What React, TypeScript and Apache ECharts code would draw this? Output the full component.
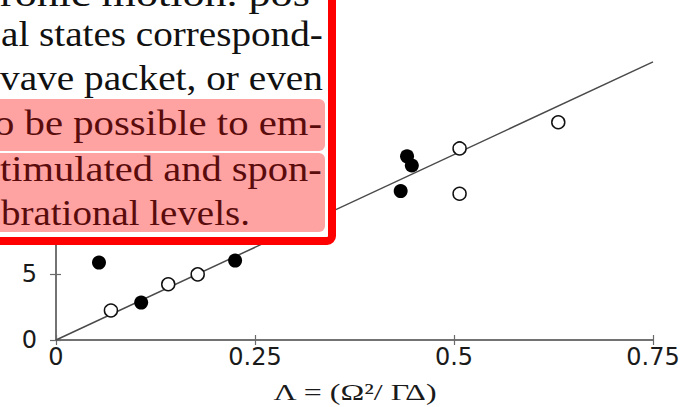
import React, { useEffect, useRef } from "react";
import * as echarts from "echarts";

// ---- data ----
const filledX = [0.054, 0.107, 0.225, 0.433, 0.441, 0.447];
const filledY = [5.9, 2.85, 6.05, 11.35, 14.0, 13.3];
const openX = [0.069, 0.141, 0.178, 0.507, 0.507, 0.631];
const openY = [2.25, 4.25, 5.0, 14.6, 11.15, 16.6];
const fitX = [0, 0.75];
const fitY = [0, 21.2];
const xTickLabels = ["0", "0.25", "0.5", "0.75"];
const yTickLabels = ["0", "5", "10", "15", "20", "25"];
const axisTitle = "Λ = (Ω²/ ΓΔ)";
const paragraphLines = [
  "ronic motion. pos",
  "al states correspond-",
  "vave packet, or even",
  "o be possible to em-",
  "timulated and spon-",
  "brational levels.",
];
const highlighted = [false, false, false, true, true, true];

// ---- layout (not data) ----
const lineLayout = [
  { left: 0, right: 310, baseline: 6 },
  { left: 1, right: 323, baseline: 46 },
  { left: 0, right: 323, baseline: 90 },
  { left: -6, right: 322, baseline: 135 },
  { left: 0, right: 322, baseline: 181 },
  { left: 1, right: 250, baseline: 225 },
];
const PARA_FONT = 35;
const SERIF = "'Liberation Serif', 'Times New Roman', Times, serif";

function measure(text: string, font: string) {
  const c = document.createElement("canvas").getContext("2d")!;
  c.font = font;
  return c.measureText(text).width;
}

export default function App() {
  const ref = useRef<HTMLDivElement>(null);
  useEffect(() => {
    if (!ref.current) return;
    const chart = echarts.init(ref.current, undefined, { renderer: "svg" });
    const axisColor = "#6a6a6a";
    const xStep = 0.25;
    const yStep = 5;

    const textEls: any[] = paragraphLines.map((t, i) => {
      const L = lineLayout[i];
      const w = measure(t, `${PARA_FONT}px ${SERIF}`);
      const s = (L.right - L.left) / w;
      return {
        type: "text",
        x: L.left,
        y: L.baseline - PARA_FONT * 0.3375,
        scaleX: s,
        z: 110,
        style: {
          text: t,
          font: `${PARA_FONT}px ${SERIF}`,
          fill: highlighted[i] ? "#5a0c0c" : "#111111",
          align: "left",
          textAlign: "left",
          verticalAlign: "middle",
          textVerticalAlign: "middle",
        },
      };
    });

    const titleFont = 23;
    const titleW = measure(axisTitle, `${titleFont}px ${SERIF}`);

    chart.setOption({
      animation: false,
      backgroundColor: "#ffffff",
      grid: { left: 56, right: 44, top: 6, bottom: 67 },
      xAxis: [
        {
          type: "value",
          min: 0,
          max: 0.75,
          interval: xStep,
          axisLine: { show: true, lineStyle: { color: axisColor, width: 1.5 } },
          axisTick: { show: true, inside: true, length: 5, lineStyle: { color: axisColor, width: 1.2 } },
          splitLine: { show: false },
          axisLabel: {
            show: true,
            margin: 5,
            fontFamily: "DejaVu Sans",
            fontSize: 24,
            color: "#1a1a1a",
            formatter: (v: number) => xTickLabels[Math.round(v / xStep)] ?? "",
          },
        },
        {
          type: "value",
          position: "top",
          min: 0,
          max: 0.75,
          interval: xStep,
          axisLine: { show: true, lineStyle: { color: axisColor, width: 1.5 } },
          axisTick: { show: true, inside: true, length: 5, lineStyle: { color: axisColor, width: 1.2 } },
          splitLine: { show: false },
          axisLabel: { show: false },
        },
      ],
      yAxis: [
        {
          type: "value",
          min: 0,
          max: 25,
          interval: yStep,
          axisLine: { show: true, lineStyle: { color: axisColor, width: 1.5 } },
          axisTick: { show: true, inside: true, length: 5, lineStyle: { color: axisColor, width: 1.2 } },
          splitLine: { show: false },
          axisLabel: {
            show: true,
            margin: 19,
            fontFamily: "DejaVu Sans",
            fontSize: 24,
            color: "#1a1a1a",
            formatter: (v: number) => yTickLabels[Math.round(v / yStep)] ?? "",
          },
        },
        {
          type: "value",
          position: "right",
          min: 0,
          max: 25,
          interval: yStep,
          axisLine: { show: true, lineStyle: { color: axisColor, width: 1.5 } },
          axisTick: { show: true, inside: true, length: 6, lineStyle: { color: axisColor, width: 1.2 } },
          splitLine: { show: false },
          axisLabel: { show: false },
        },
      ],
      series: [
        {
          type: "line",
          data: fitX.map((x, i) => [x, fitY[i]]),
          symbol: "none",
          lineStyle: { color: "#4a4a4a", width: 1.5 },
          z: 2,
        },
        {
          type: "scatter",
          data: filledX.map((x, i) => [x, filledY[i]]),
          symbol: "circle",
          symbolSize: 14,
          itemStyle: { color: "#000000", opacity: 1 },
          z: 3,
        },
        {
          type: "scatter",
          data: openX.map((x, i) => [x, openY[i]]),
          symbol: "circle",
          symbolSize: 13,
          itemStyle: { color: "#ffffff", borderColor: "#111111", borderWidth: 1.5, opacity: 1 },
          z: 3,
        },
      ],
      graphic: {
        elements: [
          {
            type: "rect",
            z: 100,
            shape: { x: -20, y: -20, width: 352, height: 261, r: 5 },
            style: { fill: "#ffffff", stroke: "#ff0000", lineWidth: 8 },
          },
          {
            type: "rect",
            z: 101,
            shape: { x: -10, y: 99, width: 335, height: 52, r: 6 },
            style: { fill: "#ffa2a2" },
          },
          {
            type: "rect",
            z: 101,
            shape: { x: -10, y: 153, width: 335, height: 79, r: 6 },
            style: { fill: "#ffa2a2" },
          },
          ...textEls,
          {
            type: "text",
            x: 355,
            y: 392,
            scaleX: 164 / titleW,
            z: 100,
            style: {
              text: axisTitle,
              font: `${titleFont}px ${SERIF}`,
              fill: "#1a1a1a",
              align: "center",
              textAlign: "center",
              verticalAlign: "middle",
              textVerticalAlign: "middle",
            },
          },
        ],
      },
    });
    return () => chart.dispose();
  }, []);
  return (
    <div
      ref={ref}
      style={{ position: "fixed", left: 0, top: 0, width: 697, height: 407, background: "#fff" }}
    />
  );
}
